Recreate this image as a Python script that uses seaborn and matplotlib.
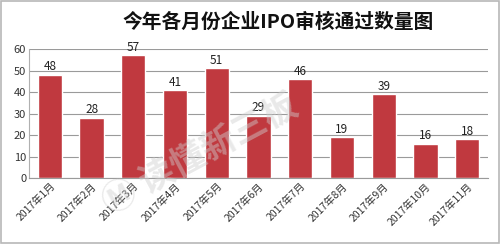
import matplotlib
matplotlib.use("Agg")
import matplotlib.pyplot as plt
import seaborn as sns
import pandas as pd
from matplotlib.patches import Rectangle

months = ["2017年1月", "2017年2月", "2017年3月", "2017年4月", "2017年5月", "2017年6月",
          "2017年7月", "2017年8月", "2017年9月", "2017年10月", "2017年11月"]
counts = [48, 28, 57, 41, 51, 29, 46, 19, 39, 16, 18]
title = "今年各月份企业IPO审核通过数量图"
yticks = [0, 10, 20, 30, 40, 50, 60]

sns.set_theme(style="white")
plt.rcParams['font.family'] = ['Noto Sans CJK SC', 'DejaVu Sans']

df = pd.DataFrame({"month": months, "count": counts})

fig = plt.figure(figsize=(5.0, 2.44), dpi=100)
ax = fig.add_axes([0.058, 0.27, 0.918, 0.529])
sns.barplot(data=df, x="month", y="count", color="#C0393F", saturation=1,
            width=0.58, ax=ax)

ax.set_ylim(0, 60)
ax.set_yticks(yticks)
ax.set_yticklabels([str(v) for v in yticks], fontsize=8, color="#333333")
ax.set_xlim(-0.5, len(months) - 0.5)
ax.set_xlabel("")
ax.set_ylabel("")
ax.yaxis.grid(True, color="#9a9a9a", linewidth=0.8)
ax.set_axisbelow(True)
for s in ["top", "right"]:
    ax.spines[s].set_visible(False)
ax.spines["left"].set_color("#b0b0b0")
ax.spines["left"].set_linewidth(0.8)
ax.spines["bottom"].set_color("#9a9a9a")
ax.spines["bottom"].set_linewidth(0.8)
ax.tick_params(axis="both", length=0, pad=2)
plt.setp(ax.get_xticklabels(), rotation=45, ha="right", rotation_mode="anchor",
         fontsize=7.5, color="#333333")

for c in ax.containers:
    ax.bar_label(c, labels=[str(v) for v in counts], fontsize=8.5, color="#222222", padding=1)

fig.text(0.556, 0.91, title, ha="center", va="center", fontsize=14.2,
         fontweight="bold", color="#111111")

fig.text(0.40, 0.37, "Ⓜ 读懂新三板", ha="center", va="center", fontsize=25,
         fontweight="bold", color="#cfcfcf", alpha=0.45, rotation=28, zorder=10,
         family=['Noto Sans CJK SC', 'DejaVu Sans'])

fig.patches.append(Rectangle((0.002, 0.004), 0.996, 0.992, transform=fig.transFigure,
                             fill=False, edgecolor="#b8b8b8", linewidth=1.2))

fig.savefig("out.png", dpi=100)
